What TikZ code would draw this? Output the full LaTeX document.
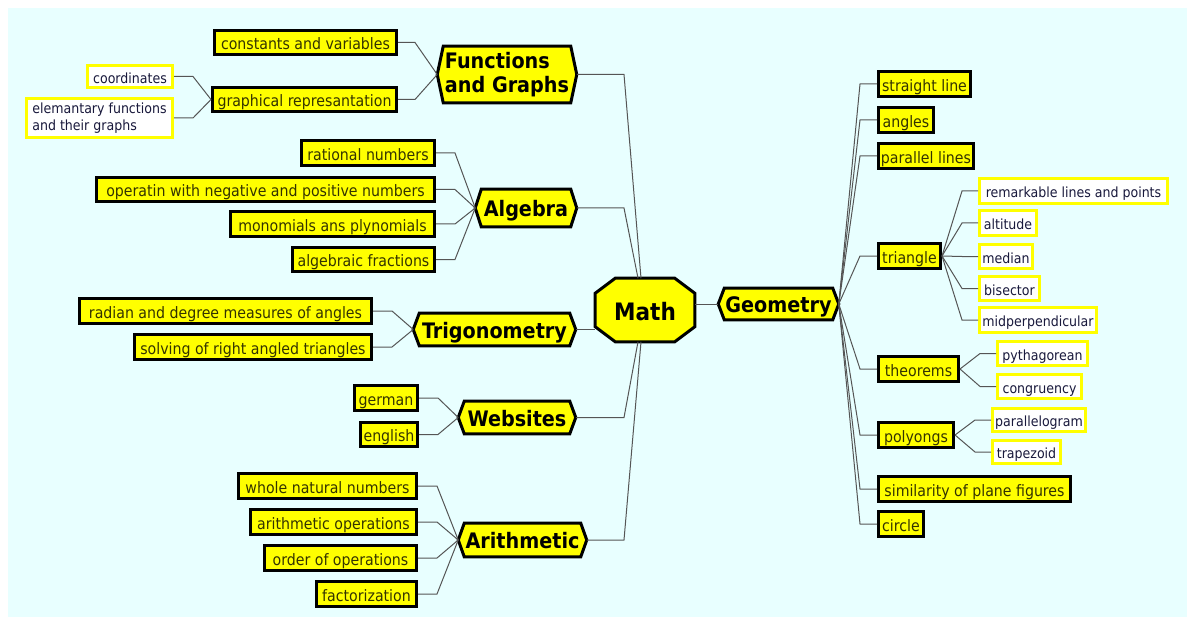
\documentclass[tikz,border=0pt]{standalone}
\usepackage{fontspec}
\setmainfont{DejaVu Sans Condensed}
\usetikzlibrary{calc}
\definecolor{bgc}{RGB}{232,255,255}
\definecolor{yel}{RGB}{255,255,0}
\definecolor{olivetext}{RGB}{51,51,0}
\definecolor{navytext}{RGB}{25,25,60}
\definecolor{wirec}{RGB}{85,85,85}
\pgfdeclarelayer{back}
\pgfsetlayers{back,main}
\tikzset{
 ybox/.style={rectangle, fill=yel, draw=black, line width=2.25pt, inner sep=0pt, text=olivetext, font=\fontsize{11.8}{14}\selectfont, text height=11pt, text depth=0pt},
 wbox/.style={rectangle, fill=white, draw=yel, line width=2.25pt, inner sep=0pt, text=navytext, font=\fontsize{10.5}{13}\selectfont, text height=10.3pt, text depth=0pt},
 hub/.style={rectangle, inner sep=0pt, text=black, font=\bfseries\fontsize{16}{18.5}\selectfont, text height=13pt, text depth=0pt},
 hexa/.style={fill=yel, draw=black, line width=2.25pt, line join=miter},
 wire/.style={draw=wirec, line width=0.75pt},
}
\newcommand\bx[7]{\node[#6, minimum width={(#4-#2-3)*0.75pt}, minimum height={(#5-#3-3)*0.75pt}] (#1) at ({(#2+#4)/2},{(#3+#5)/2}) {#7};}
\newcommand\hexof[2]{\draw[hexa] (#1.west) -- ([xshift=#2]#1.north west) -- ([xshift=-#2]#1.north east) -- (#1.east) -- ([xshift=-#2]#1.south east) -- ([xshift=#2]#1.south west) -- cycle;}
\begin{document}
\begin{tikzpicture}[x=0.75pt,y=-0.75pt]
\useasboundingbox (0,0) rectangle (1187,620);
\begin{pgfonlayer}{back}
\fill[bgc] (8,8) rectangle (1187,617);
\end{pgfonlayer}
% hubs
\bx{fg}{436}{45}{578}{104}{hub,align=left,text height=,text depth=}{Functions\\and Graphs}
\bx{alg}{474}{188}{578}{228}{hub}{Algebra}
\bx{trig}{412}{312}{577}{347}{hub}{Trigonometry}
\bx{web}{457}{400}{577}{435}{hub}{Websites}
\bx{ari}{457}{522}{588}{558}{hub}{Arithmetic}
\bx{geo}{717}{287}{840}{321}{hub}{Geometry}
\bx{math}{594}{277}{696}{343}{hub,font=\bfseries\fontsize{18}{20}\selectfont,text height=15pt}{Math}
\begin{pgfonlayer}{back}
\hexof{fg}{4.5pt}
\hexof{alg}{4.5pt}
\hexof{trig}{4.5pt}
\hexof{web}{4.5pt}
\hexof{ari}{4.5pt}
\hexof{geo}{4.5pt}
\draw[hexa] ([xshift=15pt]math.north west) -- ([xshift=-15pt]math.north east) -- ([yshift=-11.25pt]math.north east) -- ([yshift=11.25pt]math.south east) -- ([xshift=-15pt]math.south east) -- ([xshift=15pt]math.south west) -- ([yshift=11.25pt]math.south west) -- ([yshift=-11.25pt]math.north west) -- cycle;
\end{pgfonlayer}
% left leaves
\bx{cv}{213}{29}{398}{56}{ybox}{constants and variables}
\bx{gr}{211}{86}{398}{113}{ybox}{graphical represantation}
\bx{co}{86}{64}{174}{89}{wbox}{coordinates}
\bx{el}{25}{97}{174}{139}{wbox,align=left,text height=,text depth=}{elemantary functions\\and their graphs}
\bx{ra}{300}{139}{436}{167}{ybox}{rational numbers}
\bx{op}{95}{176}{436}{203}{ybox}{operatin with negative and positive numbers}
\bx{mo}{229}{210}{436}{238}{ybox}{monomials ans plynomials}
\bx{af}{291}{246}{436}{273}{ybox}{algebraic fractions}
\bx{rd}{78}{297}{373}{325}{ybox}{radian and degree measures of angles}
\bx{so}{133}{333}{373}{361}{ybox}{solving of right angled triangles}
\bx{ge}{353}{384}{419}{412}{ybox}{german}
\bx{en}{359}{421}{419}{448}{ybox}{english}
\bx{wn}{237}{472}{418}{500}{ybox}{whole natural numbers}
\bx{ao}{249}{508}{418}{536}{ybox}{arithmetic operations}
\bx{oo}{263}{544}{418}{572}{ybox}{order of operations}
\bx{fa}{315}{580}{418}{608}{ybox}{factorization}
% right leaves
\bx{sl}{877}{70}{972}{98}{ybox}{straight line}
\bx{an}{877}{106}{935}{134}{ybox}{angles}
\bx{pl}{877}{142}{975}{170}{ybox}{parallel lines}
\bx{tr}{877}{242}{942}{270}{ybox}{triangle}
\bx{rl}{978}{177}{1169}{205}{wbox}{remarkable lines and points}
\bx{al}{978}{209}{1038}{237}{wbox}{altitude}
\bx{me}{978}{243}{1034}{270}{wbox}{median}
\bx{bi}{978}{275}{1041}{302}{wbox}{bisector}
\bx{mp}{978}{306}{1098}{334}{wbox}{midperpendicular}
\bx{th}{877}{355}{960}{383}{ybox}{theorems}
\bx{py}{996}{340}{1089}{367}{wbox}{pythagorean}
\bx{cg}{996}{373}{1083}{400}{wbox}{congruency}
\bx{po}{877}{421}{955}{449}{ybox}{polyongs}
\bx{pg}{991}{407}{1087}{433}{wbox}{parallelogram}
\bx{tz}{991}{439}{1062}{465}{wbox}{trapezoid}
\bx{si}{877}{475}{1072}{503}{ybox}{similarity of plane figures}
\bx{ci}{877}{510}{925}{538}{ybox}{circle}
% junction columns
\coordinate (grj) at (193,0);
\coordinate (fj) at (415,0);
\coordinate (alj) at (455,0);
\coordinate (trj) at (392,0);
\coordinate (wj) at (438,0);
\coordinate (arj) at (437,0);
\coordinate (lj) at (624,0);
\coordinate (gj) at (860,0);
\coordinate (tj) at (962,0);
\coordinate (hj) at (980,0);
\coordinate (pj) at (975,0);
% connectors left
\draw[wire] (co.east) -- (co.east -| grj) -- (gr.west);
\draw[wire] (el.east) -- (el.east -| grj) -- (gr.west);
\draw[wire] (cv.east) -- (cv.east -| fj) -- (fg.west);
\draw[wire] (gr.east) -- (gr.east -| fj) -- (fg.west);
\foreach \c in {ra,op,mo,af} \draw[wire] (\c.east) -- (\c.east -| alj) -- (alg.west);
\foreach \c in {rd,so} \draw[wire] (\c.east) -- (\c.east -| trj) -- (trig.west);
\foreach \c in {ge,en} \draw[wire] (\c.east) -- (\c.east -| wj) -- (web.west);
\foreach \c in {wn,ao,oo,fa} \draw[wire] (\c.east) -- (\c.east -| arj) -- (ari.west);
\draw[wire] (fg.east) -- (fg.east -| lj) -- ($(math.north)+(-4,0)$);
\draw[wire] (alg.east) -- (alg.east -| lj) -- ($(math.north)+(-7,0)$);
\draw[wire] (trig.east) -- (trig.east -| math.west);
\draw[wire] (web.east) -- (web.east -| lj) -- ($(math.south)+(-7,0)$);
\draw[wire] (ari.east) -- (ari.east -| lj) -- ($(math.south)+(-4,0)$);
\draw[wire] (math.east |- geo.west) -- (geo.west);
% connectors right
\foreach \c in {sl,an,pl,tr,th,po,si,ci} \draw[wire] (geo.east) -- (gj |- \c.west) -- (\c.west);
\foreach \c in {rl,al,me,bi,mp} \draw[wire] (tr.east) -- (tj |- \c.west) -- (\c.west);
\foreach \c in {py,cg} \draw[wire] (th.east) -- (hj |- \c.west) -- (\c.west);
\foreach \c in {pg,tz} \draw[wire] (po.east) -- (pj |- \c.west) -- (\c.west);
\end{tikzpicture}
\end{document}
